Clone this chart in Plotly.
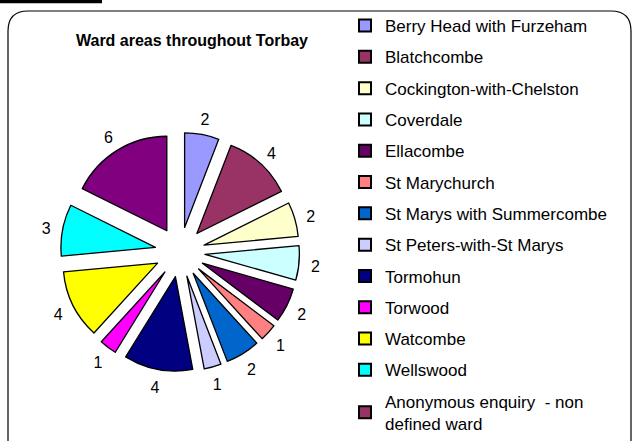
import plotly.graph_objects as go

# ---- data ----
wards = [
    "Berry Head with Furzeham",
    "Blatchcombe",
    "Cockington-with-Chelston",
    "Coverdale",
    "Ellacombe",
    "St Marychurch",
    "St Marys with Summercombe",
    "St Peters-with-St Marys",
    "Tormohun",
    "Torwood",
    "Watcombe",
    "Wellswood",
    "Anonymous enquiry  - non defined ward",
]
legend_labels = wards[:-1] + ["Anonymous enquiry  - non<br>defined ward"]
counts = [2, 4, 2, 2, 2, 1, 2, 1, 4, 1, 4, 3, 6]
slice_colors = ["#9999FF", "#993366", "#FFFFCC", "#CCFFFF", "#660066", "#FF8080",
                "#0066CC", "#CCCCFF", "#000080", "#FF00FF", "#FFFF00", "#00FFFF",
                "#800080"]
legend_colors = slice_colors[:-1] + ["#993366"]
title_text = "Ward areas throughout Torbay"

W, H = 634, 441
FONT = "Liberation Sans, Arial, sans-serif"

def px_x(v):
    return v / W

def px_y(v):
    return 1 - v / H

def dom(cx, cy, half):
    return dict(x=[px_x(cx - half), px_x(cx + half)],
                y=[px_y(cy + half), px_y(cy - half)])

fig = go.Figure()

cx, cy, half = 180, 252, 119.5
PULL = 0.265
# exploded slices
fig.add_trace(go.Pie(
    labels=wards, values=counts, sort=False, direction="clockwise", rotation=0,
    pull=PULL,
    marker=dict(colors=slice_colors, line=dict(color="#000000", width=1.3)),
    textinfo="none", showlegend=False, hoverinfo="label+value",
    domain=dom(cx, cy, half),
))
# value labels: an invisible thin ring of the same data just outside the slices
fig.add_trace(go.Pie(
    labels=wards, values=counts, sort=False, direction="clockwise", rotation=0,
    hole=0.83,
    marker=dict(colors=["rgba(0,0,0,0)"] * len(counts), line=dict(width=0)),
    textinfo="value", textposition="inside", insidetextorientation="horizontal",
    insidetextfont=dict(family=FONT, size=16, color="#000000"),
    showlegend=False, hoverinfo="skip",
    domain=dom(cx, cy + 1.5, 148.6),
))

for lab, col in zip(legend_labels, legend_colors):
    fig.add_trace(go.Scatter(
        x=[None], y=[None], mode="markers", name=lab, legendgroup=lab,
        marker=dict(symbol="square", size=10, color=col,
                    line=dict(color="#000000", width=1)),
        showlegend=True, hoverinfo="skip",
    ))

# rounded frame
x0, x1, yt, yb, r = px_x(8), px_x(631), px_y(11), px_y(448), 20
rx, ry = r / W, r / H
path = (f"M {x0},{yb} L {x0},{yt - ry} Q {x0},{yt} {x0 + rx},{yt} "
        f"L {x1 - rx},{yt} Q {x1},{yt} {x1},{yt - ry} L {x1},{yb}")

fig.update_layout(
    width=W, height=H,
    margin=dict(l=0, r=0, t=0, b=0, autoexpand=False),
    paper_bgcolor="#FFFFFF", plot_bgcolor="#FFFFFF",
    font=dict(family=FONT, color="#000000"),
    xaxis=dict(visible=False), yaxis=dict(visible=False),
    title=dict(text=title_text, x=px_x(192), xref="paper", xanchor="center",
               y=px_y(40), yref="paper", yanchor="middle",
               font=dict(family=FONT, size=16, color="#000000", weight="bold")),
    legend=dict(x=px_x(345), y=px_y(8), xanchor="left", yanchor="top",
                font=dict(family=FONT, size=17, color="#000000"),
                tracegroupgap=6.2, itemsizing="constant",
                bgcolor="rgba(0,0,0,0)", borderwidth=0),
    shapes=[
        dict(type="path", xref="paper", yref="paper", path=path,
             line=dict(color="#000000", width=1.2), fillcolor="rgba(0,0,0,0)"),
        dict(type="rect", xref="paper", yref="paper", x0=0, x1=px_x(102),
             y0=px_y(3.3), y1=1.02, line=dict(width=0), fillcolor="#000000"),
    ],
)

fig.write_html("out.html",
               config={"displayModeBar": False},
               post_script="document.body.style.margin='0px';")
